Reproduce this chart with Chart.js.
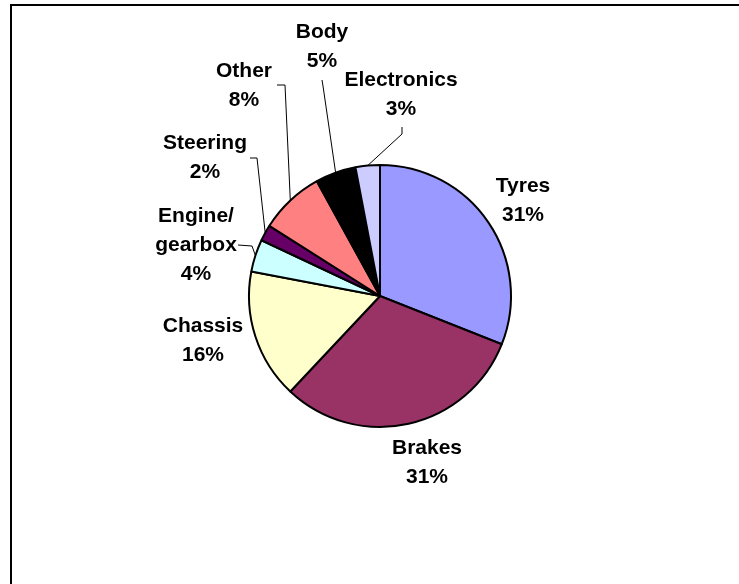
<!DOCTYPE html>
<html>
<head>
<meta charset="utf-8">
<title>Defects by component</title>
<script src="https://cdn.jsdelivr.net/npm/chart.js@4"></script>
<style>
  body {
    margin: 0;
    background: #ffffff;
  }
  #marco {
    position: relative;
    width: 739px;
    height: 584px;
    overflow: hidden;
  }
  #borde {
    position: absolute;
    left: 10px;
    top: 4px;
    width: 800px;
    height: 700px;
    border: 2px solid #000000;
  }
  #grafico {
    position: absolute;
    left: 0;
    top: 0;
  }
</style>
</head>
<body>
<div id="marco">
  <div id="borde"></div>
  <canvas id="grafico" width="739" height="584"></canvas>
</div>

<script>
const categorias = ["Tyres", "Brakes", "Chassis", "Engine/\ngearbox", "Steering", "Other", "Body", "Electronics"];
const porcentajes = [31, 31, 16, 4, 2, 8, 5, 3];
const colores = ["#9999FF", "#993366", "#FFFFCC", "#CCFFFF", "#660066", "#FF8080", "#000000", "#CCCCFF"];

// where each label sits, measured from the centre of the pie
const posEtiquetas = [
  [143, -110],
  [47, 152],
  [-177, 30],
  [-184, -80],
  [-175, -153],
  [-136, -225],
  [-58, -264],
  [21, -216],
];

// bends of the leader lines (from the label side), null = no line
const guias = [
  null,
  null,
  null,
  [[-142, -51], [-128, -50]],
  [[-130, -138], [-123, -138]],
  [[-103, -211], [-95, -211]],
  [[-58, -216], [-57, -210]],
  [[22, -169], [22, -162]],
];

const etiquetasPlugin = {
  id: "etiquetas",
  afterDraw(chart) {
    const ctx = chart.ctx;
    const arcos = chart.getDatasetMeta(0).data;

    ctx.save();
    ctx.font = "bold 21px 'Liberation Sans', Arial, sans-serif";
    ctx.fillStyle = "#000000";
    ctx.textAlign = "center";
    ctx.textBaseline = "middle";

    arcos.forEach((arco, i) => {
      const { x, y, startAngle, endAngle, outerRadius } = arco.getProps(
        ["x", "y", "startAngle", "endAngle", "outerRadius"],
        true
      );

      const guia = guias[i];
      if (guia) {
        const medio = (startAngle + endAngle) / 2;
        ctx.beginPath();
        ctx.strokeStyle = "#000000";
        ctx.lineWidth = 1;
        ctx.moveTo(x + guia[0][0], y + guia[0][1]);
        for (let k = 1; k < guia.length; k++) {
          ctx.lineTo(x + guia[k][0], y + guia[k][1]);
        }
        ctx.lineTo(x + Math.cos(medio) * outerRadius, y + Math.sin(medio) * outerRadius);
        ctx.stroke();
      }

      const lineas = categorias[i].split("\n");
      lineas.push(porcentajes[i] + "%");
      const lx = x + posEtiquetas[i][0];
      const ly = y + posEtiquetas[i][1];
      lineas.forEach((texto, k) => {
        ctx.fillText(texto, lx, ly + k * 29);
      });
    });

    ctx.restore();
  },
};

function crearGrafico() {
  const chartDOM = document.getElementById("grafico");

  const config = {
    type: "pie",
    data: {
      labels: categorias.map((c) => c.replace("\n", " ")),
      datasets: [
        {
          data: porcentajes,
          backgroundColor: colores,
          borderColor: "#000000",
          borderWidth: 2,
        },
      ],
    },
    options: {
      responsive: false,
      devicePixelRatio: 1,
      animation: false,
      layout: {
        padding: { left: 248, right: 227, top: 164, bottom: 156 },
      },
      plugins: {
        legend: { display: false },
        tooltip: { enabled: false },
      },
    },
    plugins: [etiquetasPlugin],
  };

  return new Chart(chartDOM, config);
}

crearGrafico();
</script>
</body>
</html>
